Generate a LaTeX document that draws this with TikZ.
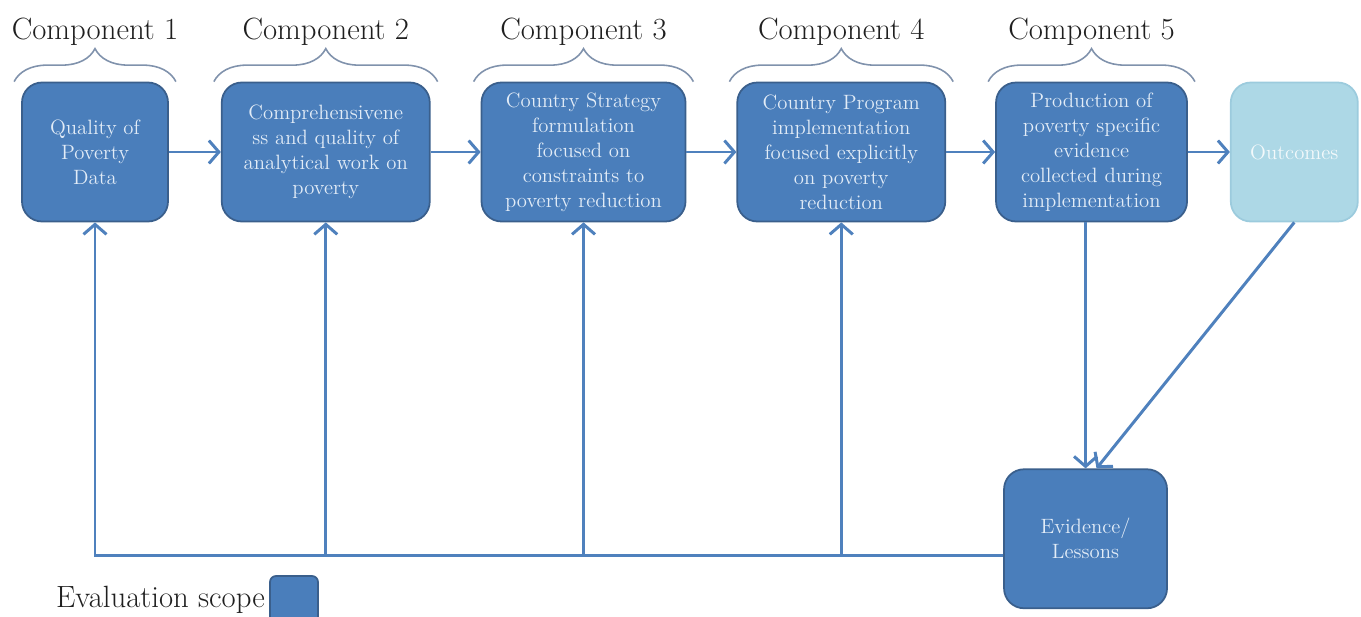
\documentclass[tikz,border=0pt]{standalone}
\usetikzlibrary{arrows.meta,positioning,decorations.pathreplacing}
\definecolor{boxblue}{HTML}{4A7EBB}
\definecolor{boxedge}{HTML}{3A5F8C}
\definecolor{boxtext}{HTML}{E2ECF7}
\definecolor{linkblue}{HTML}{4F81BD}
\definecolor{outfill}{HTML}{ADD8E6}
\definecolor{outedge}{HTML}{9CCBDD}
\definecolor{bracegray}{HTML}{8092AC}
\tikzset{%
   comp/.style={rectangle, rounded corners=0.4cm, draw=boxedge, line width=1pt, fill=boxblue, text=boxtext, align=center, minimum height=2.78cm, inner sep=1pt, font=\fontsize{11.8}{14.2}\selectfont},
   outc/.style={comp, draw=outedge, fill=outfill, text=white!85!outfill},
   lbl/.style={inner sep=0pt, font=\fontsize{17.5}{20}\selectfont, text=black!88},
   link/.style={draw=linkblue, line width=1.7pt, -{Straight Barb[length=2mm,width=4.6mm]}},
   brc/.style={draw=bracegray, line width=0.9pt, decorate, decoration={brace, amplitude=0.66cm}},
}

\begin{document}
\begin{tikzpicture}
   \useasboundingbox (0,0) rectangle (27.22,-12.32);
   \node[comp, minimum width=2.92cm] (c1) at (1.9,-3.04) {Quality of\\Poverty\\Data};
   \node[comp, minimum width=4.16cm, right=1.04cm of c1] (c2) {Comprehensivene\\ss and quality of\\analytical work on\\poverty};
   \node[comp, minimum width=4.08cm, right=1.0cm of c2] (c3) {Country Strategy\\formulation\\focused on\\constraints to\\poverty reduction};
   \node[comp, minimum width=4.16cm, right=1.0cm of c3] (c4) {Country Program\\implementation\\focused explicitly\\on poverty\\reduction};
   \node[comp, minimum width=3.82cm, right=0.98cm of c4] (c5) {Production of\\poverty specific\\evidence\\collected during\\implementation};
   \node[outc, minimum width=2.54cm, right=0.84cm of c5] (out) {Outcomes};
   \node[comp, minimum width=3.26cm, below=4.92cm of c5, xshift=-0.12cm] (ev) {Evidence/\\Lessons};
   \foreach \i in {1,...,5} {
      \draw[brc] ([xshift=-0.14cm]c\i.north west) -- ([xshift=0.14cm]c\i.north east);
      \node[lbl, above=0.72cm of c\i] (l\i) {Component \i};
   }
   \foreach \a/\b in {c1/c2, c2/c3, c3/c4, c4/c5, c5/out}
      \draw[link] (\a) -- (\b);
   \draw[link] (c5.south -| ev.north) -- (ev.north);
   \draw[link] (out.south) -- ([xshift=0.22cm]ev.north);
   \coordinate (fb) at ([yshift=-0.34cm]ev.west);
   \draw[link] (fb) -| (c1.south);
   \foreach \n in {c2, c3, c4}
      \draw[link] (fb -| \n.south) -- (\n.south);
   \node[comp, minimum width=0.96cm, minimum height=0.96cm, rounded corners=0.12cm] (key) at (5.88,-12.0) {};
   \node[lbl, left=0.08cm of key] (keytext) {Evaluation scope};
\end{tikzpicture}
\end{document}
